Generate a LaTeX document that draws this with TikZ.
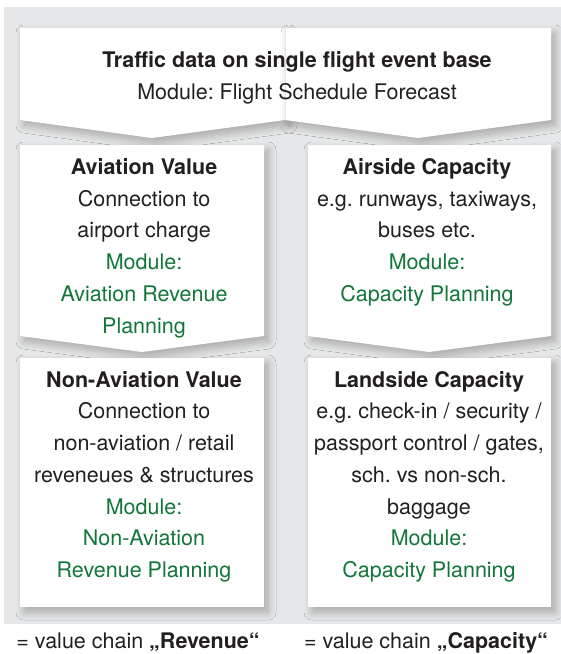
\documentclass[tikz,border=0pt]{standalone}
\usepackage{fontspec}
\setmainfont{TeX Gyre Heros}
\usepackage{tikz}
\usetikzlibrary{shadows.blur}
\usepackage{xcolor}
\definecolor{panelgray}{RGB}{230,231,232}
\definecolor{textgray}{RGB}{35,31,32}
\definecolor{modulegreen}{RGB}{18,118,58}
\frenchspacing

\begin{document}
\begin{tikzpicture}[x=1pt, y=-1pt,
    chev/.style={fill=white, blur shadow={shadow xshift=4pt, shadow yshift=-5pt, shadow blur radius=8pt, shadow blur steps=12, shadow opacity=28}},
    boxtext/.style={anchor=north, inner sep=0pt, align=center, text=textgray, font=\fontsize{21.5}{31.7}\selectfont},
    legend/.style={anchor=base, inner sep=0pt, text=textgray, font=\fontsize{21.5}{31.7}\selectfont}]
    \useasboundingbox (0,0) rectangle (561,654);
    \fill[panelgray] (4,7) rectangle (561,624);
    \fill[chev] (20,28) -- (285,28) -- (285,120) -- (152,138) -- (20,120) -- cycle;
    \fill[chev] (285,28) -- (551,28) -- (551,120) -- (418,138) -- (285,120) -- cycle;
    \draw[black!10] (285,28) -- (285,120);
    \fill[chev] (20,145) -- (264,145) -- (264,336) -- (142,352) -- (20,336) -- cycle;
    \fill[chev] (308,145) -- (551,145) -- (551,336) -- (429,352) -- (308,336) -- cycle;
    \fill[chev] (20,358) rectangle (264,607);
    \fill[chev] (308,358) rectangle (551,607);
    \node[boxtext] (traffic) at (297,51.5) {\textbf{Traffic data on single flight event base}\\Module: Flight Schedule Forecast};
    \node[boxtext] (aviation) at (144,158.3) {\textbf{Aviation Value}\\Connection to\\airport charge\\\textcolor{modulegreen}{Module:}\\\textcolor{modulegreen}{Aviation Revenue}\\\textcolor{modulegreen}{Planning}};
    \node[boxtext] (airside) at (427,158.3) {\textbf{Airside Capacity}\\e.g. runways, taxiways,\\buses etc.\\\textcolor{modulegreen}{Module:}\\\textcolor{modulegreen}{Capacity Planning}};
    \node[boxtext] (nonaviation) at (144,371) {\textbf{Non-Aviation Value}\\Connection to\\non-aviation / retail\\reveneues \& structures\\\textcolor{modulegreen}{Module:}\\\textcolor{modulegreen}{Non-Aviation}\\\textcolor{modulegreen}{Revenue Planning}};
    \node[boxtext] (landside) at (429,371) {\textbf{Landside Capacity}\\e.g. check-in / security /\\passport control / gates,\\sch. vs non-sch.\\baggage\\\textcolor{modulegreen}{Module:}\\\textcolor{modulegreen}{Capacity Planning}};
    \node[legend] (revenue) at (138,648) {= value chain \textbf{„Revenue“}};
    \node[legend] (capacity) at (426,648) {= value chain \textbf{„Capacity“}};
\end{tikzpicture}
\end{document}
